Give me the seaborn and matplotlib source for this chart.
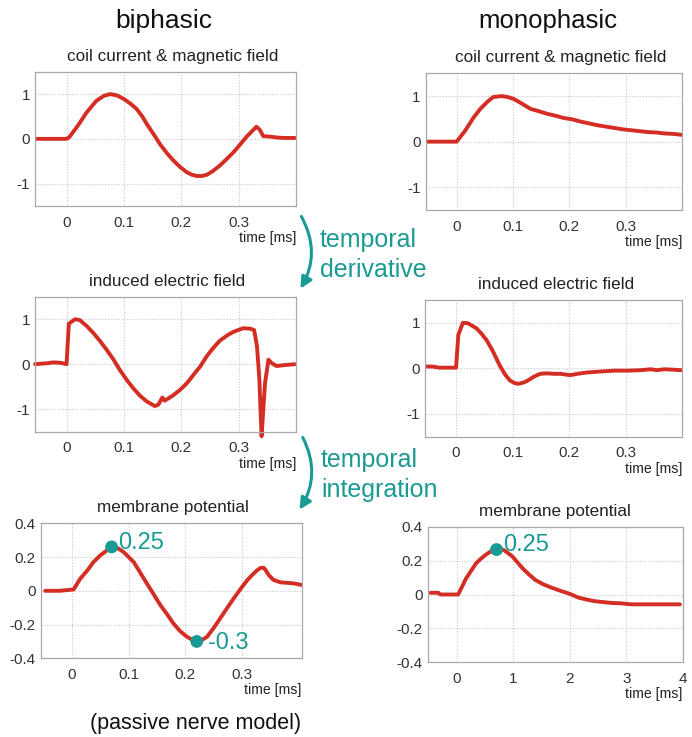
import numpy as np
import pandas as pd
import matplotlib
matplotlib.use("Agg")
import matplotlib.pyplot as plt
import seaborn as sns
from matplotlib.patches import FancyArrowPatch

# ---------------- data ----------------
# biphasic: coil current & magnetic field
t_bi_coil = [-0.055, 0.0, 0.005, 0.02, 0.035, 0.052, 0.065, 0.076, 0.088, 0.10, 0.112, 0.122,
             0.132, 0.14, 0.152, 0.163, 0.175, 0.186, 0.198, 0.209, 0.218, 0.227, 0.236, 0.245,
             0.255, 0.267, 0.28, 0.291, 0.303, 0.314, 0.324, 0.331, 0.337, 0.343, 0.355, 0.366,
             0.38, 0.398]
v_bi_coil = [0.0, 0.0, 0.04, 0.3, 0.59, 0.85, 0.96, 1.0, 0.97, 0.89, 0.78, 0.67,
             0.5, 0.33, 0.1, -0.12, -0.32, -0.48, -0.63, -0.74, -0.8, -0.83, -0.83, -0.8,
             -0.72, -0.6, -0.44, -0.3, -0.12, 0.05, 0.18, 0.27, 0.2, 0.06, 0.05, 0.03,
             0.02, 0.02]

# biphasic: induced electric field
t_bi_ef = [-0.055, -0.035, -0.023, -0.01, 0.0, 0.004, 0.015, 0.023, 0.035, 0.047, 0.058, 0.07,
           0.082, 0.093, 0.105, 0.116, 0.128, 0.14, 0.154, 0.16, 0.167, 0.171, 0.185, 0.198,
           0.21, 0.221, 0.233, 0.244, 0.255, 0.267, 0.28, 0.291, 0.308, 0.32, 0.327, 0.332,
           0.336, 0.340, 0.343, 0.346, 0.352, 0.358, 0.366, 0.38, 0.398]
v_bi_ef = [0.0, 0.02, 0.04, 0.03, 0.0, 0.9, 1.0, 0.98, 0.85, 0.69, 0.52, 0.32,
           0.1, -0.13, -0.35, -0.53, -0.7, -0.83, -0.93, -0.9, -0.74, -0.81, -0.7, -0.57,
           -0.42, -0.24, -0.05, 0.17, 0.35, 0.52, 0.64, 0.72, 0.8, 0.79, 0.76, 0.4,
           -0.3, -1.6, -1.0, -0.42, 0.1, 0.02, -0.04, -0.02, 0.0]

# biphasic: membrane potential
t_bi_mp = [-0.047, -0.021, 0.003, 0.015, 0.027, 0.038, 0.05, 0.062, 0.074, 0.082, 0.091, 0.1,
           0.109, 0.12, 0.132, 0.144, 0.156, 0.168, 0.179, 0.191, 0.203, 0.212, 0.221, 0.23,
           0.238, 0.25, 0.262, 0.274, 0.285, 0.297, 0.309, 0.318, 0.326, 0.332, 0.338, 0.342,
           0.347, 0.355, 0.368, 0.38, 0.391, 0.406]
v_bi_mp = [0.0, 0.0, 0.008, 0.073, 0.12, 0.17, 0.21, 0.24, 0.26, 0.25, 0.23, 0.2,
           0.17, 0.11, 0.044, -0.02, -0.085, -0.14, -0.194, -0.24, -0.273, -0.29, -0.30, -0.29,
           -0.273, -0.22, -0.16, -0.1, -0.046, 0.01, 0.063, 0.095, 0.12, 0.135, 0.137, 0.12,
           0.093, 0.065, 0.05, 0.047, 0.044, 0.034]

# monophasic: coil current & magnetic field
t_mono_coil = [-0.055, 0.0, 0.015, 0.03, 0.042, 0.055, 0.065, 0.08, 0.09, 0.101, 0.115, 0.131,
               0.145, 0.161, 0.175, 0.19, 0.205, 0.22, 0.235, 0.25, 0.265, 0.28, 0.295, 0.31,
               0.325, 0.339, 0.355, 0.369, 0.385, 0.399]
v_mono_coil = [0.0, 0.0, 0.24, 0.53, 0.72, 0.88, 0.98, 1.0, 0.98, 0.94, 0.84, 0.72,
               0.67, 0.61, 0.57, 0.52, 0.49, 0.44, 0.4, 0.36, 0.33, 0.3, 0.27, 0.25,
               0.23, 0.21, 0.2, 0.18, 0.17, 0.15]

# monophasic: induced electric field
t_mono_ef = [-0.055, -0.042, -0.03, 0.0, 0.004, 0.012, 0.021, 0.036, 0.045, 0.054, 0.065, 0.077,
             0.087, 0.095, 0.103, 0.11, 0.12, 0.128, 0.138, 0.149, 0.16, 0.173, 0.185, 0.202,
             0.215, 0.232, 0.255, 0.28, 0.305, 0.327, 0.345, 0.355, 0.369, 0.385, 0.399]
v_mono_ef = [0.04, 0.04, 0.015, 0.015, 0.73, 1.0, 0.99, 0.88, 0.76, 0.62, 0.38, 0.07,
             -0.14, -0.26, -0.32, -0.34, -0.31, -0.26, -0.18, -0.12, -0.11, -0.12, -0.12, -0.15,
             -0.12, -0.09, -0.07, -0.05, -0.05, -0.04, -0.02, -0.04, -0.02, -0.03, -0.04]

# monophasic: membrane potential
t_mono_mp = [-0.47, -0.33, -0.3, 0.02, 0.08, 0.16, 0.25, 0.34, 0.42, 0.51, 0.6, 0.69,
             0.76, 0.84, 0.92, 0.98, 1.07, 1.16, 1.27, 1.39, 1.53, 1.68, 1.83, 1.98,
             2.15, 2.3, 2.45, 2.6, 2.74, 2.9, 3.09, 3.5, 3.95]
v_mono_mp = [0.01, 0.01, 0.0, 0.0, 0.04, 0.095, 0.14, 0.185, 0.21, 0.235, 0.255, 0.27,
             0.27, 0.26, 0.24, 0.225, 0.19, 0.155, 0.12, 0.085, 0.06, 0.04, 0.022, 0.006,
             -0.018, -0.03, -0.04, -0.045, -0.05, -0.052, -0.058, -0.058, -0.058]

# highlighted points and labels
bi_pts_t = [0.07, 0.22]
bi_pts_v = [0.26, -0.30]
bi_pts_lab = ["0.25", "-0.3"]
mono_pts_t = [0.7]
mono_pts_v = [0.265]
mono_pts_lab = ["0.25"]

# ticks
ms_ticks = [0, 0.1, 0.2, 0.3]
ms_labels = ["0", "0.1", "0.2", "0.3"]
long_ticks = [0, 1, 2, 3, 4]
long_labels = ["0", "1", "2", "3", "4"]
unit_yticks = [-1, 0, 1]
unit_ylabels = ["-1", "0", "1"]
mp_yticks = [-0.4, -0.2, 0, 0.2, 0.4]
mp_ylabels = ["-0.4", "-0.2", "0", "0.2", "0.4"]

titles = ["coil current & magnetic field", "induced electric field", "membrane potential"]
col_titles = ["biphasic", "monophasic"]

# ---------------- style ----------------
sns.set_theme(style="white")
plt.rcParams['font.family'] = ['Liberation Sans', 'DejaVu Sans']
plt.rcParams['axes.unicode_minus'] = False

RED = "#d42e24"
TEAL = "#1a9a94"
W, H = 692, 737

fig = plt.figure(figsize=(W / 100, H / 100), dpi=100)
fig.patch.set_facecolor("white")


def px_axes(left, right, top, bottom):
    return fig.add_axes([left / W, 1 - bottom / H, (right - left) / W, (bottom - top) / H])


ax_bc = px_axes(35, 296, 71.7, 206)
ax_mc = px_axes(425.7, 682, 73.3, 210)
ax_be = px_axes(35, 296, 296.7, 431.7)
ax_me = px_axes(425, 682, 300, 436.7)
ax_bm = px_axes(40.7, 301.7, 523.3, 658.3)
ax_mm = px_axes(427.7, 682.7, 526.7, 662.3)

panels = [
    (ax_bc, t_bi_coil, v_bi_coil, titles[0], 0.527, (-0.055, 0.40), (-1.5, 1.5), ms_ticks, ms_labels, unit_yticks, unit_ylabels),
    (ax_mc, t_mono_coil, v_mono_coil, titles[0], 0.527, (-0.055, 0.40), (-1.5, 1.5), ms_ticks, ms_labels, unit_yticks, unit_ylabels),
    (ax_be, t_bi_ef, v_bi_ef, titles[1], 0.505, (-0.055, 0.40), (-1.5, 1.5), ms_ticks, ms_labels, unit_yticks, unit_ylabels),
    (ax_me, t_mono_ef, v_mono_ef, titles[1], 0.51, (-0.055, 0.40), (-1.5, 1.5), ms_ticks, ms_labels, unit_yticks, unit_ylabels),
    (ax_bm, t_bi_mp, v_bi_mp, titles[2], 0.505, (-0.055, 0.405), (-0.4, 0.4), ms_ticks, ms_labels, mp_yticks, mp_ylabels),
    (ax_mm, t_mono_mp, v_mono_mp, titles[2], 0.5, (-0.52, 4.0), (-0.4, 0.4), long_ticks, long_labels, mp_yticks, mp_ylabels),
]

for ax, t, v, title, tx, xl, yl, xt, xtl, yt, ytl in panels:
    df = pd.DataFrame({"t": t, "v": v})
    sns.lineplot(data=df, x="t", y="v", ax=ax, color=RED, linewidth=2.8,
                 sort=False, estimator=None)
    ax.set_xlim(*xl)
    ax.set_ylim(*yl)
    ax.set_xticks(xt, xtl)
    ax.set_yticks(yt, ytl)
    ax.set_xlabel("")
    ax.set_ylabel("")
    ax.grid(True, linestyle=(0, (1, 1.5)), color="#c8c8c8", linewidth=0.8)
    ax.tick_params(axis="both", length=0, labelsize=11, colors="#333333")
    ax.tick_params(axis="x", pad=7)
    ax.tick_params(axis="y", pad=3.5)
    for s in ax.spines.values():
        s.set_color("#a8a8a8")
        s.set_linewidth(0.9)
    ax.set_title(title, fontsize=12.3, color="#222222", pad=8, x=tx)
    ax.annotate("time [ms]", xy=(1, 0), xycoords="axes fraction",
                xytext=(0, -23), textcoords="offset points",
                ha="right", va="center", fontsize=10.2, color="#222222")

# the negative spike of the biphasic E-field overshoots the frame
ax_be.lines[0].set_clip_on(False)

# highlighted points
for ax, pt, pv, labs in [(ax_bm, bi_pts_t, bi_pts_v, bi_pts_lab),
                         (ax_mm, mono_pts_t, mono_pts_v, mono_pts_lab)]:
    sns.scatterplot(x=pt, y=pv, ax=ax, color=TEAL, s=85, edgecolor="none", zorder=5)
    for x, y, lab in zip(pt, pv, labs):
        if lab == "-0.3":
            off = (8, -1)
        else:
            off = (5, 3)
        ax.annotate(lab, xy=(x, y), xytext=off, textcoords="offset points",
                    ha="left", va="center", fontsize=17, color=TEAL, zorder=6)

# column headings
fig.text(164 / W, 1 - 28 / H, col_titles[0], ha="center", va="baseline", fontsize=19, color="#111111")
fig.text(548 / W, 1 - 28 / H, col_titles[1], ha="center", va="baseline", fontsize=18.5, color="#111111")

# arrows and process labels
def fig_arrow(x0, y0, x1, y1):
    arr = FancyArrowPatch((x0 / W, 1 - y0 / H), (x1 / W, 1 - y1 / H),
                          transform=fig.transFigure, connectionstyle="arc3,rad=-0.3",
                          arrowstyle="-|>", mutation_scale=17, lw=2.2, color=TEAL)
    fig.patches.append(arr)

fig_arrow(300, 214, 299, 291)
fig_arrow(301.5, 435, 298, 512)

fig.text(320 / W, 1 - 246.7 / H, "temporal", ha="left", va="baseline", fontsize=18, color=TEAL)
fig.text(320 / W, 1 - 277 / H, "derivative", ha="left", va="baseline", fontsize=18, color=TEAL)
fig.text(321 / W, 1 - 466.7 / H, "temporal", ha="left", va="baseline", fontsize=18, color=TEAL)
fig.text(321 / W, 1 - 496.7 / H, "integration", ha="left", va="baseline", fontsize=18, color=TEAL)

fig.text(196 / W, 1 - 724 / H, "(passive nerve model)", ha="center", va="center", fontsize=15.5, color="#111111")

fig.savefig("out.png", dpi=100, facecolor="white")
